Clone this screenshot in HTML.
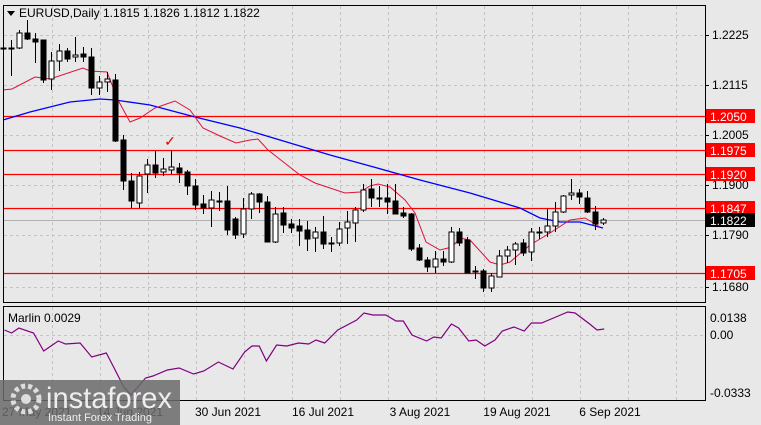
<!DOCTYPE html>
<html><head><meta charset="utf-8"><style>
html,body{margin:0;padding:0;background:#e8e8e8;width:761px;height:425px;overflow:hidden}
svg{display:block;font-family:"Liberation Sans",sans-serif}
</style></head><body>
<svg id="s" width="761" height="425" xmlns="http://www.w3.org/2000/svg">
<rect width="761" height="425" fill="#e8e8e8"/>
<g id="grid" stroke="#c4c4c4" stroke-dasharray="3,3" stroke-width="1"></g>
<g id="hl"></g>
<polyline id="blue" fill="none" stroke="#0000ff" stroke-width="1.3"/>
<polyline id="red" fill="none" stroke="#e0103a" stroke-width="1"/>
<g id="c"></g>
<polyline id="marlin" fill="none" stroke="#800080" stroke-width="1.2"/>
<rect x="3.5" y="5.5" width="702" height="297" fill="none" stroke="#000"/>
<rect x="3.5" y="306.5" width="702" height="94" fill="none" stroke="#000"/>
<g id="ax" font-size="12" fill="#000"></g>
<text x="170" y="146" fill="#e00000" font-size="14" text-anchor="middle">✓</text>
<path d="M7 11 L15 11 L11 16 Z" fill="#000"/>
<text x="19" y="17" font-size="12">EURUSD,Daily  1.1815 1.1826 1.1812 1.1822</text>
<text x="8" y="322" font-size="12">Marlin 0.0029</text>
<g font-size="12" text-anchor="middle">
<text x="2" y="416" text-anchor="start">27 May 2021</text>
<text x="130" y="416">14 Jun 2021</text>
<text x="228" y="416">30 Jun 2021</text>
<text x="323" y="416">16 Jul 2021</text>
<text x="420" y="416">3 Aug 2021</text>
<text x="517" y="416">19 Aug 2021</text>
<text x="610" y="416">6 Sep 2021</text>
</g>
<rect x="0" y="380" width="180" height="45" fill="#6a6a6a" opacity="0.85"/>
<circle cx="26" cy="399" r="13" fill="none" stroke="#ddd" stroke-width="5" stroke-dasharray="4,3"/>
<circle cx="26" cy="399" r="5" fill="#ddd"/>
<text x="46" y="408" font-size="30" fill="#eee" textLength="126" lengthAdjust="spacingAndGlyphs">instaforex</text>
<text x="48" y="421" font-size="11" fill="#eee">Instant Forex Trading</text>
</svg>
<script>
const NS="http://www.w3.org/2000/svg";
function el(t,a,p){const e=document.createElementNS(NS,t);for(const k in a)e.setAttribute(k,a[k]);(p||document.getElementById('s')).appendChild(e);return e;}
const grid=document.getElementById('grid');
for(let x=52;x<705;x+=48){el('line',{x1:x+.5,y1:6,x2:x+.5,y2:302},grid);el('line',{x1:x+.5,y1:307,x2:x+.5,y2:400},grid);}
const ticks=[[35,'1.2225'],[85,'1.2115'],[135,'1.2005'],[185,'1.1900'],[235,'1.1790'],[287,'1.1680']];
const ax=document.getElementById('ax');
ticks.forEach(t=>{el('line',{x1:4,y1:t[0]+.5,x2:705,y2:t[0]+.5},grid);el('line',{x1:705,y1:t[0]+.5,x2:709,y2:t[0]+.5,stroke:'#000'},ax);const tx=el('text',{x:712,y:t[0]+4},ax);tx.textContent=t[1];});
el('line',{x1:4,y1:335.5,x2:705,y2:335.5},grid);
[[318,'0.0138'],[335,'0.00'],[393,'-0.0333']].forEach(t=>{const tx=el('text',{x:710,y:t[0]+4},ax);tx.textContent=t[1];});
const hl=document.getElementById('hl');
[[116,'1.2050'],[150,'1.1975'],[174,'1.1920'],[208,'1.1847'],[273,'1.1705']].forEach(h=>{el('line',{x1:4,y1:h[0]+.5,x2:706,y2:h[0]+.5,stroke:'#ff0000','stroke-width':1.3},hl);el('rect',{x:706,y:h[0]-7,width:49,height:14,fill:'#ff0000'},ax);const tx=el('text',{x:710,y:h[0]+5,fill:'#fff'},ax);tx.textContent=h[1];});
el('line',{x1:4,y1:220.5,x2:706,y2:220.5,stroke:'#b0b0b0'},hl);
el('rect',{x:706,y:213,width:49,height:14,fill:'#000'},ax);
{const tx=el('text',{x:710,y:225,fill:'#fff'},ax);tx.textContent='1.1822';}
const C=[[48,48,38,57],[48,48,40,76],[48,33,30,49],[33,39,20,40],[39,42,33,63],[40,80,40,83],[79,61,52,90],[61,51,44,71],[51,59,48,62],[57,55,37,62],[54,57,47,62],[57,88,48,95],[88,82,76,95],[82,79,72,92],[80,141,74,142],[140,181,135,190],[181,201,173,208],[203,176,172,208],[174,165,159,193],[165,173,151,178],[172,169,158,176],[170,167,150,174],[168,173,163,183],[172,186,170,195],[186,205,179,210],[204,208,195,214],[208,200,191,227],[201,201,192,211],[201,230,186,235],
[219,235,217,239],[234,209,198,238],[209,194,192,219],[194,202,193,213],[202,242,196,242],[242,214,207,243],[213,225,207,233],[224,228,219,233],[226,231,219,246],[230,239,221,251],[238,232,227,252],[232,244,216,249],[243,243,237,252],[243,229,222,246],[228,222,211,244],[223,210,207,242],[210,190,184,212],[189,198,179,207],[198,199,186,207],[198,202,184,214],[201,214,184,214],[213,216,207,218],[214,249,213,251],[248,260,244,261],[260,267,257,272],[267,259,251,273],[259,262,251,266],[262,232,227,263],[232,243,228,246],[240,273,237,273],[271,272,266,279],
[271,288,269,292],[288,276,273,292],[277,256,250,277],[256,250,246,263],[250,244,242,265],[243,253,239,256],[252,232,228,261],[232,233,227,239],[232,226,209,237],[226,212,202,232],[212,196,195,213],[195,193,179,200],[193,197,189,204],[198,212,191,213],[212,224,206,230],[223,220,218,225]];
const cg=document.getElementById('c');
C.forEach((c,i)=>{const x=3.5+8*i;const [o,cl,h,l]=c;el('line',{x1:x,y1:h,x2:x,y2:l,stroke:'#000'},cg);const top=Math.min(o,cl),bh=Math.max(Math.abs(o-cl),1);el('rect',{x:x-2.5,y:top,width:5,height:bh,fill:cl<o?'#fff':'#000',stroke:'#000','stroke-width':1},cg);});
document.getElementById('red').setAttribute('points','3,90 12,89 35,77 50,79 83,68 90,71 107,72 118,100 130,122 140,118 155,108 175,101 190,110 203,128 220,136 236,143 250,140 258,139 268,150 300,175 315,183 345,193 360,192 370,186 378,184 390,187 405,200 415,213 426,242 440,250 452,247 460,238 470,240 490,262 500,265 510,262 530,245 550,233 570,220 585,218 600,227');
document.getElementById('blue').setAttribute('points','3,120 30,112 70,102 100,99 115,100 150,105 195,117 240,128 290,143 330,155 370,166 420,180 470,193 500,202 520,208 540,218 560,222 580,222 603,228');
const mp='3,330 8,333 13,328 23,333 30,351 40,341 45,344 55,343 63,357 73,353 78,367 85,387 90,395 100,378 105,376 115,370 123,368 133,374 140,371 150,362 160,369 168,352 173,346 178,346 183,361 190,345 197,346 205,343 212,344 217,340 223,343 232,330 245,320 250,313 256,315 265,315 272,321 277,321 283,335 293,341 298,337 303,338 310,324 315,328 322,341 327,340 333,346 340,340 345,331 353,327 360,331 365,323 372,323 385,315 390,312 395,313 405,324 410,330 415,329';
document.getElementById('marlin').setAttribute('points',mp.split(' ').map(p=>{const [x,y]=p.split(',').map(Number);return (x*1.456).toFixed(1)+','+y;}).join(' '));
</script>
</body></html>
